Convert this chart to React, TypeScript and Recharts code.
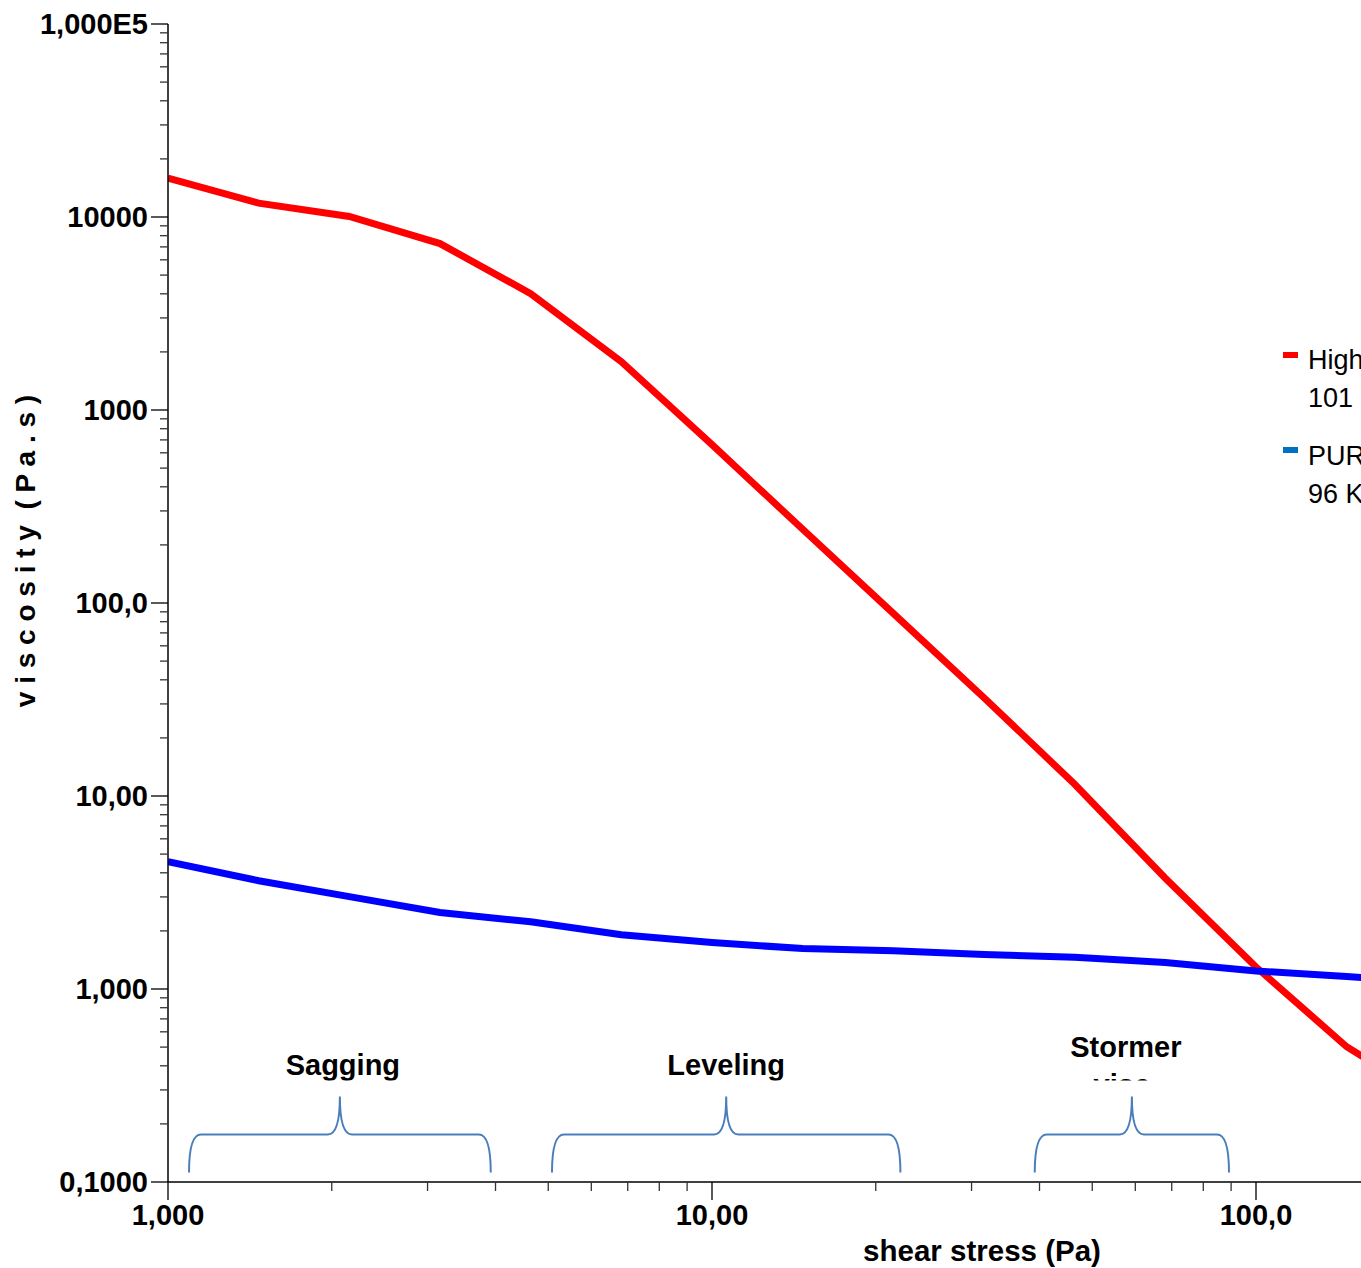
import React from 'react';
import { LineChart, Line, XAxis, YAxis, ReferenceArea } from 'recharts';

const FONT = '"Liberation Sans", Arial, sans-serif';

// shear stress (Pa) sample points
const shearStress = [1, 1.468, 2.154, 3.162, 4.642, 6.813, 10, 14.68, 21.54, 31.62, 46.42, 68.13, 100, 146.8, 215.4];
// viscosity (Pa.s)
const highViscosity = [15900, 11800, 10070, 7280, 4010, 1778, 661, 241, 88.3, 32.3, 11.5, 3.75, 1.3, 0.502, 0.257];
const purViscosity = [4.57, 3.64, 3.01, 2.49, 2.23, 1.91, 1.74, 1.62, 1.58, 1.51, 1.46, 1.37, 1.24, 1.16, 1.08];

const seriesNames = [['High', '101 KU'], ['PUR', '96 KU']];
const seriesColors = ['#FF0000', '#0000FF'];
const legendColors = ['#FF0000', '#0070C0'];

const xMajorTicks = [1, 10, 100, 1000];
const xTickLabels = ['1,000', '10,00', '100,0', '1000'];
const yMajorTicks = [0.1, 1, 10, 100, 1000, 10000, 100000];
const yTickLabels = ['0,1000', '1,000', '10,00', '100,0', '1000', '10000', '1,000E5'];
const minorMultipliers = [2, 3, 4, 5, 6, 7, 8, 9];

const bracketLabels = [['Sagging'], ['Leveling'], ['Stormer', 'visc.']];
const bracketStart = [1.093, 5.08, 39.2];
const bracketEnd = [3.92, 22.2, 89.2];
const bracketBottom = 0.112;
const bracketTop = 0.277;
const bracketLabelShift = [3, 0, -6];

const xTitle = 'shear stress (Pa)';
const yTitle = 'v i s c o s i t y  ( P a . s )';

const data = shearStress.map((x, i) => ({ x, high: highViscosity[i], pur: purViscosity[i] }));

const xTicks = [
  ...xMajorTicks,
  ...xMajorTicks.slice(0, 3).flatMap((d) => minorMultipliers.map((m) => m * d)),
].sort((a, b) => a - b);
const yTicks = [
  ...yMajorTicks,
  ...yMajorTicks.slice(0, 6).flatMap((d) => minorMultipliers.map((m) => m * d)),
].sort((a, b) => a - b);

const findMajor = (arr: number[], v: number) => arr.findIndex((t) => Math.abs(t - v) / t < 1e-6);

const XTick = (props: any) => {
  const { x, y, payload } = props;
  const idx = findMajor(xMajorTicks, payload.value);
  const major = idx >= 0;
  return (
    <g>
      <line x1={x} x2={x} y1={y} y2={y + (major ? 18 : 9)} stroke={major ? '#000' : '#333'} strokeWidth={1.3} />
      {major && (
        <text x={x} y={y + 43} textAnchor="middle" fontSize={29} fontWeight="bold" fill="#000" fontFamily={FONT}>
          {xTickLabels[idx]}
        </text>
      )}
    </g>
  );
};

const YTick = (props: any) => {
  const { x, y, payload } = props;
  const idx = findMajor(yMajorTicks, payload.value);
  const major = idx >= 0;
  return (
    <g>
      <line x1={x - (major ? 17 : 8)} x2={x} y1={y} y2={y} stroke={major ? '#000' : '#333'} strokeWidth={1.3} />
      {major && (
        <text x={x - 20} y={y + 10} textAnchor="end" fontSize={29} fontWeight="bold" fill="#000" fontFamily={FONT}>
          {yTickLabels[idx]}
        </text>
      )}
    </g>
  );
};

const makeBracket = (lines: string[], id: number, shift: number) => (props: any) => {
  const { x, y, width, height } = props;
  const x0 = x;
  const x1 = x + width;
  const yt = y;
  const yb = y + height;
  const ys = y + height / 2;
  const px = x + width / 2;
  const r = 12;
  const d = `M ${x0} ${yb} Q ${x0} ${ys} ${x0 + r} ${ys} L ${px - r} ${ys} Q ${px} ${ys} ${px} ${yt} Q ${px} ${ys} ${px + r} ${ys} L ${x1 - r} ${ys} Q ${x1} ${ys} ${x1} ${yb}`;
  const clipId = `bracket-clip-${id}`;
  const firstBaseline = lines.length === 1 ? yt - 22 : yt - 40;
  return (
    <g>
      <defs>
        <clipPath id={clipId}>
          <rect x={x0 - 100} y={yt - 120} width={width + 200} height={104} />
        </clipPath>
      </defs>
      <path d={d} fill="none" stroke="#4A7EBB" strokeWidth={2} />
      <g clipPath={`url(#${clipId})`}>
        {lines.map((t, i) => (
          <text key={i} x={px + shift} y={firstBaseline + i * 38} textAnchor="middle" fontSize={29} fontWeight="bold" fill="#000" fontFamily={FONT}>
            {t}
          </text>
        ))}
      </g>
    </g>
  );
};

const XTitle = (props: any) => {
  const vb = props.viewBox || {};
  return (
    <text x={vb.x + vb.width / 2 - 2} y={vb.y + 79} textAnchor="middle" fontSize={29.5} fontWeight="bold" fill="#000" fontFamily={FONT}>
      {xTitle}
    </text>
  );
};

const YTitle = (props: any) => {
  const vb = props.viewBox || {};
  const cx = 35;
  const cy = vb.y + vb.height / 2 - 52;
  return (
    <text x={cx} y={cy} transform={`rotate(-90 ${cx} ${cy})`} textAnchor="middle" fontSize={28} fontWeight="bold" fill="#000" fontFamily={FONT} style={{ whiteSpace: 'pre' }}>
      {yTitle}
    </text>
  );
};

export default function App() {
  return (
    <div style={{ position: 'absolute', left: 0, top: 0, width: 1361, height: 1268, overflow: 'hidden', background: '#fff' }}>
      <LineChart width={1820} height={1268} data={data} margin={{ top: 24, right: 20, bottom: 26, left: 0 }}>
        <XAxis
          dataKey="x"
          type="number"
          scale="log"
          domain={[1, 1000]}
          allowDataOverflow
          ticks={xTicks}
          interval={0}
          tick={<XTick />}
          tickLine={false}
          tickSize={0}
          tickMargin={0}
          height={60}
          axisLine={{ stroke: '#000', strokeWidth: 1.5 }}
          label={{ content: (p: any) => <XTitle {...p} /> }}
        />
        <YAxis
          type="number"
          scale="log"
          domain={[0.1, 100000]}
          allowDataOverflow
          ticks={yTicks}
          interval={0}
          tick={<YTick />}
          tickLine={false}
          tickSize={0}
          tickMargin={0}
          width={168}
          axisLine={{ stroke: '#000', strokeWidth: 1.5 }}
          label={{ content: (p: any) => <YTitle {...p} /> }}
        />
        {bracketLabels.map((lines, i) => (
          <ReferenceArea
            key={i}
            x1={bracketStart[i]}
            x2={bracketEnd[i]}
            y1={bracketBottom}
            y2={bracketTop}
            ifOverflow="visible"
            shape={makeBracket(lines, i, bracketLabelShift[i])}
          />
        ))}
        <Line dataKey="high" type="linear" stroke={seriesColors[0]} strokeWidth={7} dot={false} isAnimationActive={false} />
        <Line dataKey="pur" type="linear" stroke={seriesColors[1]} strokeWidth={7} dot={false} isAnimationActive={false} />
      </LineChart>
      <svg width={1361} height={1268} style={{ position: 'absolute', left: 0, top: 0, pointerEvents: 'none' }}>
        {seriesNames.map((lines, i) => (
          <g key={i}>
            <rect x={1283} y={352 + i * 95} width={15} height={6} fill={legendColors[i]} />
            {lines.map((t, j) => (
              <text key={j} x={1308} y={369 + i * 96 + j * 38} fontSize={27} fill="#000" fontFamily={FONT}>
                {t}
              </text>
            ))}
          </g>
        ))}
      </svg>
    </div>
  );
}
